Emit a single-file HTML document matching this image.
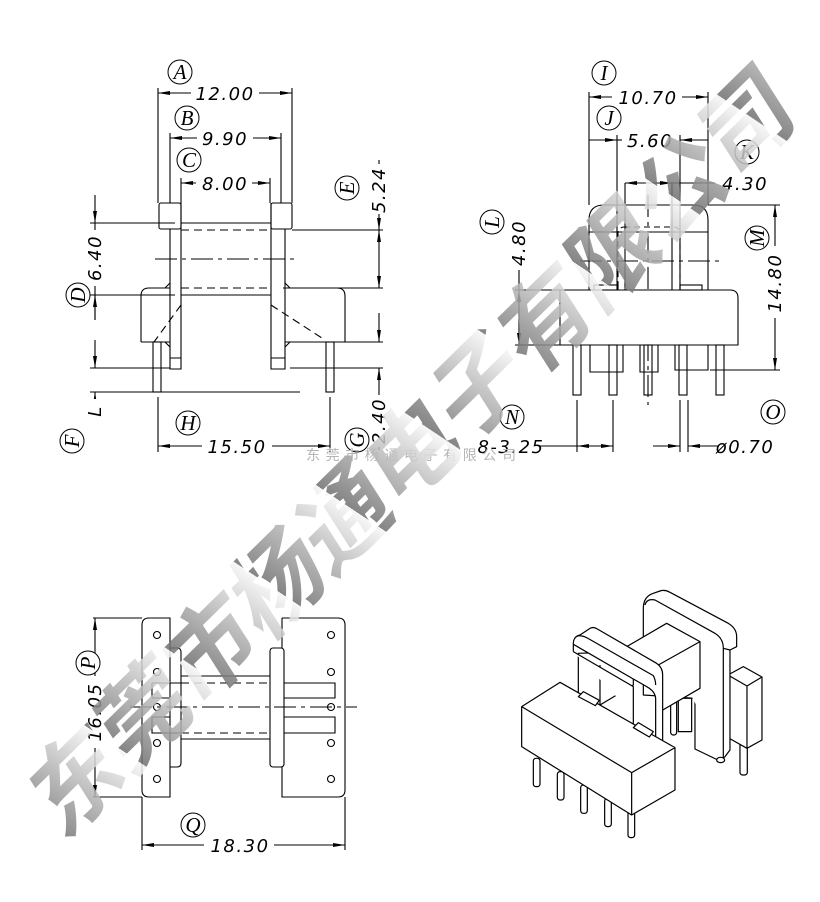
<!DOCTYPE html>
<html><head><meta charset="utf-8"><style>
html,body{margin:0;padding:0;background:#fff;}
svg{display:block}
.t{font-family:"DejaVu Sans","Liberation Sans",sans-serif;font-style:oblique;font-size:18px;letter-spacing:1.5px;fill:#000}
</style></head><body>
<svg width="820" height="902" viewBox="0 0 820 902" xmlns="http://www.w3.org/2000/svg">
<defs>
<marker id="ar" viewBox="0 0 12 6" refX="12" refY="3" markerWidth="12" markerHeight="6" markerUnits="userSpaceOnUse" orient="auto-start-reverse"><path d="M0,1 L12,3 L0,5 Z" fill="#000"/></marker>
<linearGradient id="wg" gradientUnits="userSpaceOnUse" x1="0" y1="0" x2="95" y2="-40" spreadMethod="repeat">
<stop offset="0" stop-color="#707070"/><stop offset="1" stop-color="#f6f6f6"/></linearGradient>
</defs>
<g stroke="#000" stroke-width="1.1" fill="none">
<rect x="159" y="203" width="22" height="26" rx="2"/>
<rect x="271" y="203" width="21" height="26" rx="2"/>
<path d="M170,229 V369 H181 V203 M170,358 H181"/>
<path d="M271,203 V369 H285 V229 M271,358 H285"/>
<line x1="181" y1="223" x2="271" y2="223"/>
<line x1="181" y1="295" x2="271" y2="295"/>
<path d="M141,342 V296 Q141,288 149,288 H170 M285,288 H337 Q345,288 345,296 V342 H285 M141,342 H170"/>
<path d="M165,288 L170,283 M285,283 L290,288 M165,342 L170,347 M285,347 L290,342"/>
<g stroke-dasharray="8,5">
<line x1="181" y1="230" x2="271" y2="230"/><line x1="181" y1="288" x2="271" y2="288"/>
<line x1="181" y1="305" x2="154" y2="342"/><line x1="271" y1="305" x2="325" y2="340"/>
</g>
<line x1="155" y1="259" x2="297" y2="259" stroke-dasharray="22,5,4,5"/>
<rect x="153" y="342" width="8" height="50"/>
<rect x="326" y="342" width="8" height="50"/>
<path d="M158,88 V203 M292,88 V203 M170,133 V203 M281,133 V203 M181,178 V203 M270,178 V203"/>
<path d="M90,223 H175 M90,295 H175 M90,368 H170 M290,368 H383 M90,392 H300 M292,230 H383 M283,288 H383 M300,342 H383"/>
<path d="M158,397 V452 M330,397 V452"/>
<line x1="158" y1="93" x2="292" y2="93" marker-start="url(#ar)" marker-end="url(#ar)"/>
<line x1="170" y1="138" x2="281" y2="138" marker-start="url(#ar)" marker-end="url(#ar)"/>
<line x1="181" y1="183" x2="270" y2="183" marker-start="url(#ar)" marker-end="url(#ar)"/>
<line x1="95" y1="195" x2="95" y2="223" marker-end="url(#ar)"/>
<line x1="95" y1="223" x2="95" y2="320"/>
<line x1="95" y1="320" x2="95" y2="295" marker-end="url(#ar)"/>
<line x1="95" y1="340" x2="95" y2="368" marker-end="url(#ar)"/>
<line x1="95" y1="420" x2="95" y2="392" marker-end="url(#ar)"/>
<line x1="379" y1="160" x2="379" y2="230" marker-end="url(#ar)"/>
<line x1="379" y1="260" x2="379" y2="230" marker-end="url(#ar)"/>
<line x1="379" y1="260" x2="379" y2="288" marker-end="url(#ar)"/>
<line x1="379" y1="313" x2="379" y2="342" marker-end="url(#ar)"/>
<line x1="379" y1="450" x2="379" y2="368" marker-end="url(#ar)"/>
<line x1="158" y1="446" x2="330" y2="446" marker-start="url(#ar)" marker-end="url(#ar)"/>

<path d="M589,290 V220 Q589,205 604,205 H693 Q708,205 708,220 V290"/>
<line x1="589" y1="232" x2="708" y2="232"/>
<path d="M625,183 V290 M672,183 V290 M617,135 V290 M680,135 V290 M589,92 V205 M708,92 V205"/>
<rect x="618" y="227" width="62" height="70" rx="6" stroke-dasharray="6,4"/>
<line x1="648" y1="195" x2="648" y2="405" stroke-dasharray="22,5,4,5"/>
<line x1="580" y1="261" x2="720" y2="261" stroke-dasharray="22,5,4,5"/>
<path d="M560,290 H730 Q738,290 738,298 V345 H560 Z" fill="#fff"/>
<path d="M515,290 H560 M515,345 H560 M708,205 H780 M710,370 H780"/>
<rect x="594" y="285" width="24" height="5"/><rect x="680" y="285" width="22" height="5"/>
<path d="M590,345 V372 H623 V345 M675,345 V370 H708 V345 M640,345 V372 H658 V345"/>
<rect x="573" y="345" width="8" height="50"/><rect x="609" y="345" width="8" height="50"/>
<rect x="644" y="345" width="8" height="50"/><rect x="679" y="345" width="8" height="50"/>
<rect x="716" y="345" width="8" height="50"/>
<path d="M577,400 V452 M613,400 V452 M680,400 V452 M688,400 V452"/>
<line x1="589" y1="97" x2="708" y2="97" marker-start="url(#ar)" marker-end="url(#ar)"/>
<line x1="589" y1="140" x2="617" y2="140" marker-end="url(#ar)"/>
<line x1="617" y1="140" x2="622" y2="140"/>
<line x1="708" y1="140" x2="680" y2="140" marker-end="url(#ar)"/>
<line x1="625" y1="183" x2="672" y2="183" marker-start="url(#ar)" marker-end="url(#ar)"/>
<line x1="672" y1="183" x2="715" y2="183"/>
<line x1="519" y1="290" x2="519" y2="345" marker-start="url(#ar)" marker-end="url(#ar)"/>
<line x1="519" y1="260" x2="519" y2="290"/>
<line x1="775" y1="205" x2="775" y2="370" marker-start="url(#ar)" marker-end="url(#ar)"/>
<line x1="540" y1="446" x2="577" y2="446"/>
<line x1="577" y1="446" x2="613" y2="446" marker-start="url(#ar)" marker-end="url(#ar)"/>
<line x1="653" y1="446" x2="680" y2="446" marker-end="url(#ar)"/>
<line x1="718" y1="446" x2="688" y2="446" marker-end="url(#ar)"/>

<path d="M170,618 H149 Q142,618 142,625 V790 Q142,797 149,797 H170 Z"/>
<path d="M170,648 H177 Q181,648 181,652 V763 Q181,767 177,767 H170"/>
<path d="M181,676 H270 M181,739 H270"/>
<rect x="270" y="648" width="14" height="119" rx="3"/>
<path d="M282,618 H338 Q345,618 345,625 V790 Q345,797 338,797 H282 V767 M282,648 V618"/>
<path d="M152,683 H181 M152,698 H170 M152,683 V698 M152,717 V733 H181 M152,717 H170"/>
<path d="M284,683 H335 V698 H284 M284,717 H335 V733 H284"/>
<g stroke-dasharray="8,5"><line x1="181" y1="683" x2="270" y2="683"/><line x1="181" y1="733" x2="270" y2="733"/></g>
<line x1="130" y1="707" x2="357" y2="707" stroke-dasharray="22,5,4,5"/>
<g>
<circle cx="157" cy="635" r="3.5"/><circle cx="157" cy="672" r="3.5"/><circle cx="157" cy="707" r="3.5"/><circle cx="157" cy="743" r="3.5"/><circle cx="157" cy="779" r="3.5"/>
<circle cx="331" cy="635" r="3.5"/><circle cx="331" cy="672" r="3.5"/><circle cx="331" cy="707" r="3.5"/><circle cx="331" cy="743" r="3.5"/><circle cx="331" cy="779" r="3.5"/>
</g>
<path d="M93,618 H142 M93,797 H142 M142,797 V850 M345,797 V850"/>
<line x1="95" y1="618" x2="95" y2="797" marker-start="url(#ar)" marker-end="url(#ar)"/>
<line x1="142" y1="845" x2="345" y2="845" marker-start="url(#ar)" marker-end="url(#ar)"/>

<g transform="translate(510,585) scale(0.3333)" stroke-width="3.6" fill="#fff" stroke-linejoin="round">
<rect x="690" y="470" width="22" height="100" rx="8"/>
<path d="M654,270 L700,245 L756,276 L756,336 L756,465 L711,490 L654,458 Z"/>
<path d="M654,270 L711,303 L756,276 M711,303 V490"/>
<rect x="482" y="340" width="18" height="110" rx="8"/>
<path d="M505,340 H545 V440 H505 Z"/>
<path d="M400,330 L400,70 Q400,35 430,25 L450,18 Q465,13 480,22 L655,115 Q680,130 680,155 L680,185 L660,195 L660,495 L645,515 L630,528 L555,492 L555,340 Z"/>
<path d="M405,60 Q410,40 435,45 L615,145 Q640,160 640,190 L640,520 M640,190 L660,195"/>
<ellipse cx="632" cy="525" rx="12" ry="8"/>
<path d="M350,185 L470,115 L570,170 L570,310 L450,380 L445,240 Z"/>
<path d="M350,185 L445,240 L570,170 M445,240 V380"/>
<path d="M205,205 V325 L270,360 L370,300 L370,200 Z"/>
<line x1="270" y1="240" x2="270" y2="360"/>
<path d="M190,200 L190,175 Q190,155 210,150 L240,130 Q250,124 262,132 L440,235 Q458,247 458,270 L458,470 L437,460 L437,340 Q435,318 410,305 L190,178 M190,200 L370,305 L370,420 L437,458"/>
<path d="M200,153 Q215,150 230,158 L430,272 Q437,285 437,300"/>
<rect x="70" y="520" width="20" height="85" rx="8"/>
<rect x="142" y="560" width="20" height="85" rx="8"/>
<rect x="212" y="600" width="20" height="85" rx="8"/>
<rect x="284" y="640" width="20" height="85" rx="8"/>
<rect x="354" y="670" width="20" height="88" rx="8"/>
<path d="M35,365 L150,292 L495,488 L495,615 L365,690 L35,485 Z"/>
<path d="M35,365 L365,563 L495,488 M365,563 V690"/>
<path d="M205,335 L220,320 L268,346 L256,362 Z"/>
<path d="M370,428 L385,413 L430,440 L418,456 Z"/>
</g>
</g>

<g fill="#fff">
<rect x="191" y="84" width="68" height="18"/><rect x="197" y="129" width="56" height="18"/><rect x="196" y="174" width="56" height="18"/>
<rect x="202" y="437" width="70" height="18"/><rect x="86" y="230" width="18" height="56"/><rect x="370" y="164" width="18" height="50"/>
<rect x="370" y="395" width="18" height="52"/><rect x="86" y="399" width="18" height="24"/>
<rect x="612" y="88" width="70" height="18"/><rect x="622" y="131" width="56" height="18"/><rect x="716" y="174" width="58" height="18"/>
<rect x="510" y="216" width="18" height="54"/><rect x="766" y="246" width="18" height="72"/>
<rect x="86" y="676" width="18" height="72"/><rect x="204" y="836" width="70" height="18"/>
</g>
<g class="t" font-style="italic">
<text x="225" y="100" text-anchor="middle">12.00</text>
<text x="225" y="145" text-anchor="middle">9.90</text>
<text x="225" y="190" text-anchor="middle">8.00</text>
<text x="237" y="453" text-anchor="middle">15.50</text>
<text transform="translate(101,258) rotate(-90)" text-anchor="middle">6.40</text>
<text transform="translate(101,411) rotate(-90)" text-anchor="middle">L</text>
<text transform="translate(385,190) rotate(-90)" text-anchor="middle">5.24</text>
<text transform="translate(385,421) rotate(-90)" text-anchor="middle">2.40</text>
<text x="648" y="104" text-anchor="middle">10.70</text>
<text x="650" y="147" text-anchor="middle">5.60</text>
<text x="745" y="190" text-anchor="middle">4.30</text>
<text transform="translate(525,243) rotate(-90)" text-anchor="middle">4.80</text>
<text transform="translate(781,283) rotate(-90)" text-anchor="middle">14.80</text>
<text x="511" y="453" text-anchor="middle">8-3.25</text>
<text x="745" y="453" text-anchor="middle">ø0.70</text>
<text transform="translate(101,712) rotate(-90)" text-anchor="middle">16.05</text>
<text x="240" y="852" text-anchor="middle">18.30</text>
</g>
<g stroke="#000" stroke-width="1" fill="#fff">
<circle cx="180" cy="72" r="12"/><circle cx="187" cy="118" r="12"/><circle cx="189" cy="160" r="12"/>
<circle cx="347" cy="188" r="12"/><circle cx="78" cy="295" r="12"/><circle cx="72" cy="441" r="12"/>
<circle cx="188" cy="423" r="12"/><circle cx="357" cy="440" r="12"/>
<circle cx="604" cy="73" r="12"/><circle cx="609" cy="118" r="12"/><circle cx="747" cy="152" r="12"/>
<circle cx="492" cy="222" r="12"/><circle cx="757" cy="238" r="12"/><circle cx="512" cy="417" r="12"/><circle cx="773" cy="412" r="12"/>
<circle cx="88" cy="663" r="12"/><circle cx="193" cy="825" r="12"/>
</g>
<g font-family="'Liberation Serif','DejaVu Serif',serif" font-style="italic" font-size="21" fill="#000" text-anchor="middle">
<text x="180" y="79">A</text><text x="187" y="125">B</text><text x="189" y="167">C</text>
<text transform="translate(354,188) rotate(-90)">E</text><text transform="translate(85,295) rotate(-90)">D</text>
<text transform="translate(79,441) rotate(-90)">F</text><text x="188" y="430">H</text>
<text transform="translate(364,440) rotate(-90)">G</text>
<text x="604" y="80">I</text><text x="609" y="125">J</text><text x="747" y="159">K</text>
<text transform="translate(499,222) rotate(-90)">L</text><text transform="translate(764,238) rotate(-90)">M</text>
<text x="512" y="424">N</text><text x="773" y="419">O</text>
<text transform="translate(95,663) rotate(-90)">P</text><text x="193" y="832">Q</text>
</g>

<text x="306" y="460" font-family="'Noto Sans CJK SC','WenQuanYi Zen Hei',sans-serif" font-size="14" letter-spacing="5.6" fill="#b5b5b5">东莞市杨通电子有限公司</text>
<g transform="translate(62,842) rotate(-44.5)">
<text x="0" y="0" transform="skewX(-12)" font-family="'Noto Sans CJK SC','WenQuanYi Zen Hei',sans-serif" font-weight="bold" font-size="94" fill="url(#wg)" fill-opacity="0.85">东莞市杨通电子有限公司</text>
</g>
</svg>
</body></html>
